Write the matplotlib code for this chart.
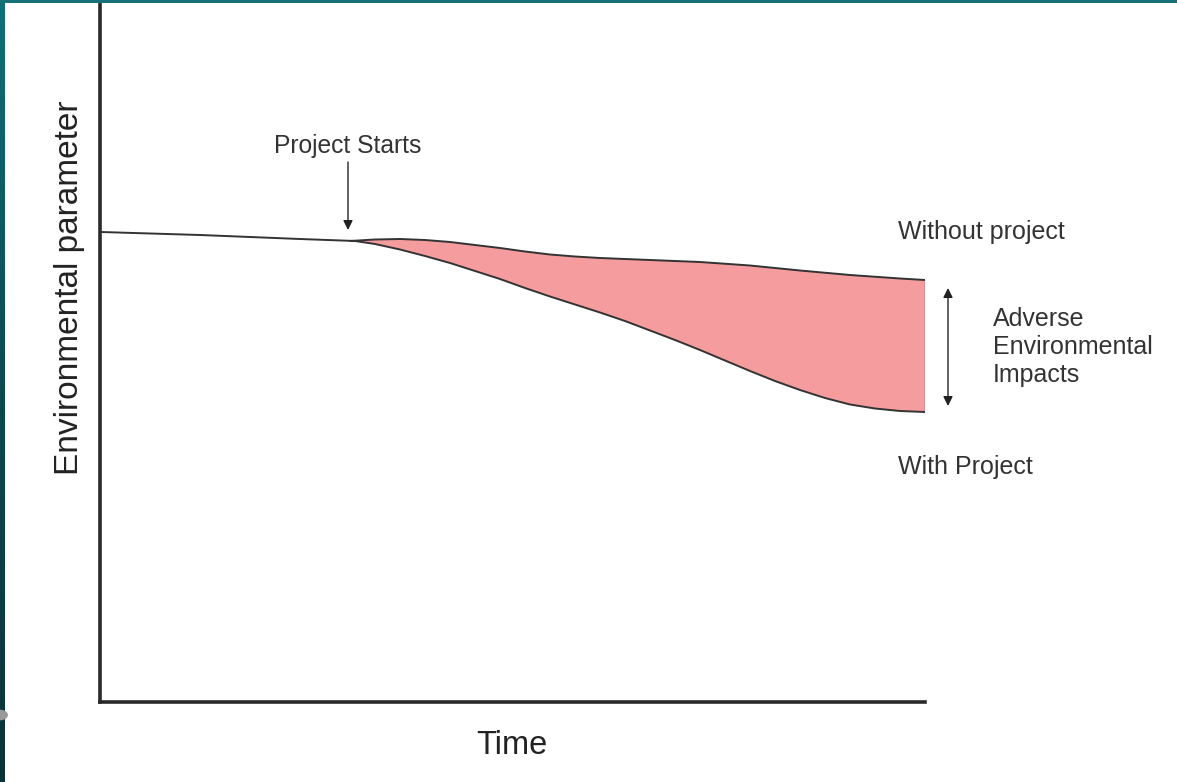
import matplotlib
matplotlib.use("Agg")
import matplotlib.pyplot as plt
import numpy as np
from matplotlib.patches import Rectangle, Circle
from matplotlib.colors import LinearSegmentedColormap

plt.rcParams['font.family'] = ['Liberation Sans', 'DejaVu Sans']

# ---- data (time units, parameter units) ----
base_t = [1, 100, 200, 255]
base_v = [470, 467, 463, 461]

without_t = [250, 275, 300, 325, 350, 375, 400, 425, 450, 475, 500, 550, 600, 650, 700, 750, 800, 825]
without_v = [461, 462.5, 463, 462, 460, 457, 454, 450.5, 447.5, 445.5, 444, 442, 440, 436.5, 431.5, 427, 423.5, 422]

with_t = [255, 275, 300, 325, 350, 375, 400, 425, 450, 475, 500, 525, 550, 575, 600, 625,
          650, 675, 700, 725, 750, 775, 800, 825]
with_v = [461, 458, 452.5, 446, 439, 431, 423, 414, 405.5, 397.5, 389.5, 381, 371.5, 362, 352, 341.5,
          331, 321, 312, 304, 297.5, 293.5, 291, 290]

start_t = 248
label_x = "Time"
label_y = "Environmental parameter"

W, H = 1177, 782
fig = plt.figure(figsize=(W / 100, H / 100), dpi=100)
fig.patch.set_facecolor('white')

# teal frame on left and top
grad = np.linspace(0, 1, 256).reshape(-1, 1)
cmap = LinearSegmentedColormap.from_list('teal', ['#0f7078', '#0c4a50', '#0a3338'])
axl = fig.add_axes([0, 0, 5 / W, 1])
axl.imshow(grad, aspect='auto', cmap=cmap, extent=[0, 1, 1, 0])
axl.axis('off')
fig.patches.append(Rectangle((0, 1 - 3 / H), 1, 3 / H, transform=fig.transFigure,
                             facecolor='#167278', edgecolor='none', zorder=5))
fig.patches.append(Circle((0, 1 - 715 / H), 8 / W, transform=fig.transFigure,
                          facecolor='#9a9a9a', edgecolor='none', zorder=6))

ax = fig.add_axes([100 / W, (H - 702) / H, 825 / W, 702 / H])
ax.set_xlim(0, 825)
ax.set_ylim(0, 702)
for s in ['top', 'right']:
    ax.spines[s].set_visible(False)
for s in ['left', 'bottom']:
    ax.spines[s].set_linewidth(2.6)
    ax.spines[s].set_color('#2a2a2a')
ax.set_xticks([])
ax.set_yticks([])

# fill between curves
tt = np.array(with_t, dtype=float)
up = np.interp(tt, without_t, without_v)
ax.fill_between(tt, up, with_v, facecolor='#f49c9e', edgecolor='none', zorder=1)
kw = dict(color='#333333', lw=1.4, zorder=3, solid_joinstyle='round', solid_capstyle='round')
ax.plot(base_t, base_v, **kw)
ax.plot(without_t, without_v, **kw)
ax.plot(with_t, with_v, **kw)
ax.plot([with_t[-1], with_t[-1]], [with_v[-1], without_v[-1]], color='#555555', lw=1.0, zorder=3)

# Project starts arrow
ax.annotate('', xy=(start_t, 472), xytext=(start_t, 540),
            arrowprops=dict(arrowstyle='-|>', color='#222222', lw=1.0,
                            mutation_scale=14, shrinkA=0, shrinkB=0))
ax.text(start_t, 556, 'Project Starts', ha='center', va='center', fontsize=17.7, color='#333333')

# double arrow
ax.annotate('', xy=(848, 296), xytext=(848, 414),
            arrowprops=dict(arrowstyle='<|-|>', color='#222222', lw=1.0,
                            mutation_scale=14, shrinkA=0, shrinkB=0),
            annotation_clip=False)

ax.text(798, 470, 'Without project', ha='left', va='center', fontsize=18, color='#333333', clip_on=False)
ax.text(893, 355, 'Adverse\nEnvironmental\nImpacts', ha='left', va='center', fontsize=18,
        color='#333333', linespacing=1.22, clip_on=False)
ax.text(798, 235, 'With Project', ha='left', va='center', fontsize=18, color='#333333', clip_on=False)

fig.text(512 / W, 1 - 746 / H, label_x, ha='center', va='center', fontsize=23.5, color='#222222')
fig.text(70 / W, 1 - 288 / H, label_y, ha='center', va='center', fontsize=24,
         rotation=90, color='#222222')

fig.savefig('out.png', dpi=100)
